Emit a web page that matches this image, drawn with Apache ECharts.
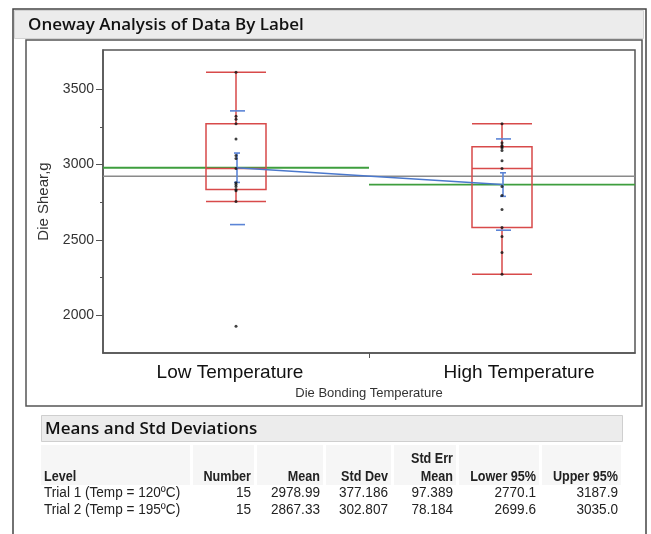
<!DOCTYPE html>
<html>
<head>
<meta charset="utf-8">
<script src="https://cdn.jsdelivr.net/npm/echarts@6/dist/echarts.min.js"></script>
<style>
  html, body { margin: 0; padding: 0; background: #fff; }
  #chart { width: 651px; height: 534px; }
</style>
</head>
<body>
<div id="chart"></div>
<script>
// ---- data ----
const categories = ['Low Temperature', 'High Temperature'];
const lowPoints  = [1927, 2755, 2826, 2834, 2855, 2868, 2880, 2974, 3040, 3060, 3170, 3271, 3300, 3320, 3613];
const highPoints = [2272, 2417, 2523, 2583, 2702, 2795, 2854, 2974, 3026, 3093, 3110, 3119, 3126, 3145, 3271];
// [lower whisker, Q1, median, Q3, upper whisker]
const lowBox  = [2755, 2834, 2974, 3271, 3613];
const highBox = [2272, 2583, 2974, 3119, 3271];
const grandMean = 2923.2;
const yMajorTicks = [2000, 2500, 3000, 3500];
const yMinorTicks = [2250, 2750, 3250];
const xDividerTicks = [1];
const yMin = 1750, yMax = 3760;

// table
const tableLevels = ['Trial 1 (Temp = 120\u00BAC)', 'Trial 2 (Temp = 195\u00BAC)'];
const tableNumber = ['15', '15'];
const tableMean   = ['2978.99', '2867.33'];
const tableStdDev = ['377.186', '302.807'];
const tableStdErr = ['97.389', '78.184'];
const tableLower  = ['2770.1', '2699.6'];
const tableUpper  = ['3187.9', '3035.0'];
const tableHeaders = ['Level', 'Number', 'Mean', 'Std Dev', 'Mean', 'Lower 95%', 'Upper 95%'];

const means = tableMean.map(Number);
const sds = tableStdDev.map(Number);
const ses = tableStdErr.map(Number);

// ---- chart ----
const chart = echarts.init(document.getElementById('chart'), null, { renderer: 'canvas' });

const BASE_FONT = "'Liberation Sans', Arial, sans-serif";
const TITLE_FONT = "'Open Sans', 'Noto Sans', sans-serif";

const scatterData = [];
lowPoints.forEach(v => scatterData.push([0, v]));
highPoints.forEach(v => scatterData.push([1, v]));

// table graphics
const colRight = [null, 251, 320, 388, 453, 536, 618];
const cellBg = [[41, 190], [193, 254], [257, 323], [326, 391], [394, 456], [459, 539], [542, 621]];
const tableGraphics = [];
cellBg.forEach(c => {
  tableGraphics.push({ type: 'rect', silent: true, shape: { x: c[0], y: 445, width: c[1] - c[0], height: 40 },
    style: { fill: '#f6f6f6' }, z: 1 });
});
const HDR_SCALE = 0.9;
tableHeaders.forEach((h, i) => {
  tableGraphics.push({ type: 'text', silent: true, z: 5,
    x: i === 0 ? 44 : colRight[i], y: 477, scaleX: HDR_SCALE,
    style: { text: h, font: "bold 14px " + BASE_FONT, fill: '#222',
      textAlign: i === 0 ? 'left' : 'right', textVerticalAlign: 'middle' } });
});
tableGraphics.push({ type: 'text', silent: true, z: 5, x: colRight[4], y: 459, scaleX: HDR_SCALE,
  style: { text: 'Std Err', font: "bold 14px " + BASE_FONT, fill: '#222', textAlign: 'right', textVerticalAlign: 'middle' } });
const rowCols = [tableLevels, tableNumber, tableMean, tableStdDev, tableStdErr, tableLower, tableUpper];
[493, 510].forEach((ry, r) => {
  rowCols.forEach((col, i) => {
    tableGraphics.push({ type: 'text', silent: true, z: 5,
      x: i === 0 ? 44 : colRight[i], y: ry, scaleX: 0.97,
      style: { text: col[r], font: "14px " + BASE_FONT, fill: '#222',
        textAlign: i === 0 ? 'left' : 'right', textVerticalAlign: 'middle' } });
  });
});

const option = {
  backgroundColor: '#fff',
  animation: false,
  grid: { left: 103, top: 50, width: 532, height: 303, show: true, borderColor: '#555', borderWidth: 1.5, backgroundColor: 'transparent' },
  xAxis: [
    {
      type: 'category', data: categories, boundaryGap: true,
      name: 'Die Bonding Temperature', nameLocation: 'middle', nameGap: 33,
      nameTextStyle: { fontFamily: BASE_FONT, fontSize: 13, color: '#333' },
      axisLine: { show: true, lineStyle: { color: '#555', width: 1.5 } },
      axisTick: { show: false },
      axisLabel: {
        margin: 10, color: '#111', fontFamily: BASE_FONT, fontSize: 19,
        formatter: (v, i) => i === 0 ? '{a|' + v + '}' : '{b|' + v + '}',
        rich: {
          a: { fontFamily: BASE_FONT, fontSize: 19, color: '#111', padding: [0, 12, 0, 0] },
          b: { fontFamily: BASE_FONT, fontSize: 19, color: '#111', padding: [0, 0, 0, 34] }
        }
      },
      splitLine: { show: false }
    },
    {
      type: 'value', min: 0, max: 2, position: 'bottom',
      axisLine: { show: false },
      axisTick: { show: true, length: 5, customValues: xDividerTicks, lineStyle: { color: '#555' } },
      axisLabel: { show: false },
      splitLine: { show: false }
    }
  ],
  yAxis: [
    {
      type: 'value', min: yMin, max: yMax,
      name: 'Die Shear,g', nameLocation: 'middle', nameGap: 52,
      nameTextStyle: { fontFamily: BASE_FONT, fontSize: 15, color: '#333' },
      axisLine: { show: true, lineStyle: { color: '#555', width: 1.5 } },
      axisTick: { show: true, length: 7, customValues: yMajorTicks, lineStyle: { color: '#555' } },
      axisLabel: { customValues: yMajorTicks, formatter: v => String(v), margin: 9, fontFamily: BASE_FONT, fontSize: 14, color: '#333' },
      splitLine: { show: false }
    },
    {
      type: 'value', min: yMin, max: yMax, position: 'left',
      axisLine: { show: false },
      axisTick: { show: true, length: 3, customValues: yMinorTicks, lineStyle: { color: '#555' } },
      axisLabel: { show: false },
      splitLine: { show: false }
    }
  ],
  series: [
    {
      name: 'grand mean', type: 'line', xAxisIndex: 1, yAxisIndex: 0,
      data: [[0, grandMean], [2, grandMean]], symbol: 'none',
      lineStyle: { color: '#8a8a8a', width: 1.5 }, z: 2
    },
    {
      name: 'mean low', type: 'line', xAxisIndex: 1, yAxisIndex: 0,
      data: [[0, means[0]], [1, means[0]]], symbol: 'none',
      lineStyle: { color: '#3e9e3e', width: 1.8 }, z: 3
    },
    {
      name: 'mean high', type: 'line', xAxisIndex: 1, yAxisIndex: 0,
      data: [[1, means[1]], [2, means[1]]], symbol: 'none',
      lineStyle: { color: '#3e9e3e', width: 1.8 }, z: 3
    },
    {
      name: 'box', type: 'boxplot', xAxisIndex: 0, yAxisIndex: 0,
      data: [lowBox, highBox], boxWidth: [60, 60],
      itemStyle: { color: 'rgba(0,0,0,0)', borderColor: '#d84a4a', borderWidth: 1.5 },
      z: 4
    },
    {
      name: 'means line', type: 'line', xAxisIndex: 0, yAxisIndex: 0,
      data: means, symbol: 'none',
      lineStyle: { color: '#4b78cc', width: 1.5 }, z: 5
    },
    {
      name: 'sd/se', type: 'custom', xAxisIndex: 0, yAxisIndex: 0, z: 6,
      data: [[0, means[0], sds[0], ses[0]], [1, means[1], sds[1], ses[1]]],
      renderItem: (params, api) => {
        const c = api.value(0), m = api.value(1), sd = api.value(2), se = api.value(3);
        const x = api.coord([c, m])[0];
        const ySdTop = api.coord([c, m + sd])[1];
        const ySdBot = api.coord([c, m - sd])[1];
        const ySeTop = api.coord([c, m + se])[1];
        const ySeBot = api.coord([c, m - se])[1];
        const st = { stroke: '#5b84d6', lineWidth: 1.6 };
        return { type: 'group', children: [
          { type: 'line', shape: { x1: x - 6, y1: ySdTop, x2: x + 9, y2: ySdTop }, style: st },
          { type: 'line', shape: { x1: x - 6, y1: ySdBot, x2: x + 9, y2: ySdBot }, style: st },
          { type: 'line', shape: { x1: x + 1, y1: ySeTop, x2: x + 1, y2: ySeBot }, style: st },
          { type: 'line', shape: { x1: x - 2, y1: ySeTop, x2: x + 4, y2: ySeTop }, style: st },
          { type: 'line', shape: { x1: x - 2, y1: ySeBot, x2: x + 4, y2: ySeBot }, style: st }
        ] };
      }
    },
    {
      name: 'points', type: 'scatter', xAxisIndex: 0, yAxisIndex: 0,
      data: scatterData, symbol: 'circle', symbolSize: 3,
      itemStyle: { color: '#111' }, z: 7
    }
  ],
  graphic: [
    { type: 'rect', silent: true, z: 0, shape: { x: 13, y: 9, width: 633, height: 540 },
      style: { fill: 'none', stroke: '#444', lineWidth: 1.5 } },
    { type: 'rect', silent: true, z: 0, shape: { x: 14.5, y: 10.5, width: 629, height: 28 },
      style: { fill: '#ececec', stroke: '#d2d2d2', lineWidth: 1 } },
    { type: 'text', silent: true, z: 5, x: 28, y: 25,
      style: { text: 'Oneway Analysis of Data By Label', font: "600 17px " + TITLE_FONT, fill: '#111', textVerticalAlign: 'middle' } },
    { type: 'rect', silent: true, z: 0, shape: { x: 26, y: 40, width: 616, height: 366 },
      style: { fill: 'none', stroke: '#555', lineWidth: 1.5 } },
    { type: 'rect', silent: true, z: 0, shape: { x: 41.5, y: 415.5, width: 581, height: 26 },
      style: { fill: '#ececec', stroke: '#cfcfcf', lineWidth: 1 } },
    { type: 'text', silent: true, z: 5, x: 45, y: 429,
      style: { text: 'Means and Std Deviations', font: "600 17px " + TITLE_FONT, fill: '#111', textVerticalAlign: 'middle' } }
  ].concat(tableGraphics)
};

chart.setOption(option);
</script>
</body>
</html>
